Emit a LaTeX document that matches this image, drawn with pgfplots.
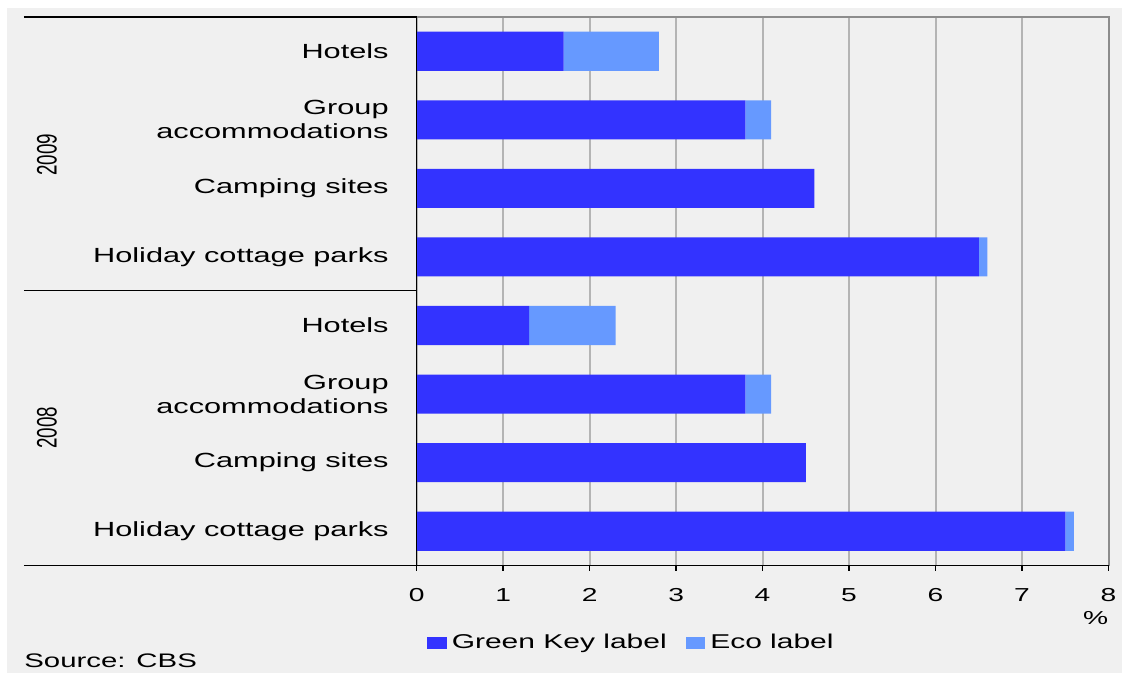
\documentclass[border=0pt]{standalone}
\usepackage{graphicx}
\usepackage{fontspec}
\setmainfont{Liberation Sans}[FakeStretch=1.5]
\newfontfamily\yearfont{Liberation Sans}
\usepackage{pgfplots}
\pgfplotsset{compat=1.18}
\definecolor{bg}{HTML}{F0F0F0}
\definecolor{greenkey}{HTML}{3333FF}
\definecolor{ecolabel}{HTML}{6699FF}
\definecolor{gridgray}{HTML}{B4B4B4}
\definecolor{framegray}{HTML}{8C8C8C}

\begin{document}
\begin{tikzpicture}
% canvas: 1 px = 0.5pt
\fill[white] (0,0) rectangle (561.5pt,337pt);
\fill[bg] (3.5pt,0) rectangle (561.5pt,333pt);
\begin{axis}[
  at={(208.5pt,54pt)}, anchor=south west,
  scale only axis, width=346.25pt, height=274.5pt,
  xbar stacked, bar width=0.57,
  xmin=0, xmax=8, ymin=-0.5, ymax=7.5,
  xtick={0,...,8}, ytick={0,...,7},
  yticklabels={Holiday cottage parks, Camping sites, {Group\\accommodations}, Hotels,
               Holiday cottage parks, Camping sites, {Group\\accommodations}, Hotels},
  axis line style={draw=none},
  xmajorgrids, grid style={gridgray, line width=1pt},
  xtick pos=bottom, ytick pos=left,
  tick align=outside, major tick length=2.5pt,
  x tick style={black, line width=0.75pt},
  y tick style={draw=none},
  /pgf/number format/assume math mode=true,
  x tick label style={font=\fontsize{9.4}{10}\selectfont, anchor=north, yshift=-5.5pt},
  y tick label style={font=\fontsize{10.25}{12}\selectfont, align=right, anchor=east, xshift=-8pt},
  xlabel={\%},
  xlabel style={at={(axis description cs:1,-0.0965)}, anchor=east, inner sep=0pt,
                font=\fontsize{9.4}{10}\selectfont},
  legend columns=2,
  legend style={at={(axis description cs:0.0144,-0.141)}, anchor=west,
                draw=none, fill=none, inner sep=0pt,
                font=\fontsize{10}{12}\selectfont,
                nodes={inner sep=2.4pt},
                /tikz/every even column/.append style={column sep=7pt}},
  legend image code/.code={\draw[#1,draw=none] (0pt,-3pt) rectangle (10pt,3pt);},
]
\addplot[fill=greenkey, draw=none] coordinates
  {(7.5,0) (4.5,1) (3.8,2) (1.3,3) (6.5,4) (4.6,5) (3.8,6) (1.7,7)};
\addplot[fill=ecolabel, draw=none] coordinates
  {(0.1,0) (0,1) (0.3,2) (1.0,3) (0.1,4) (0,5) (0.3,6) (1.1,7)};
\legend{Green Key label, Eco label}
\end{axis}
% frame of the table
\draw[framegray, line width=1pt] (208.5pt,328.5pt) -- (554.75pt,328.5pt) -- (554.75pt,54pt);
\draw[black, line width=0.75pt] (12pt,328.5pt) -- (208.5pt,328.5pt);
\draw[black, line width=0.75pt] (12pt,191.5pt) -- (208.5pt,191.5pt);
\draw[black, line width=0.75pt] (12pt,54pt) -- (554.75pt,54pt);
\draw[black, line width=0.75pt] (208.5pt,328.5pt) -- (208.5pt,54pt);
% year groups
\node[rotate=90, font=\yearfont\fontsize{9.4}{10}\selectfont] at (23.5pt,259.5pt) {\scalebox{1}[1.5]{2009}};
\node[rotate=90, font=\yearfont\fontsize{9.4}{10}\selectfont] at (23.5pt,123pt) {\scalebox{1}[1.5]{2008}};
% source
\node[anchor=west, inner sep=0pt, font=\fontsize{9.8}{11}\selectfont] at (12pt,6.5pt) {Source: CBS};
\end{tikzpicture}
\end{document}
